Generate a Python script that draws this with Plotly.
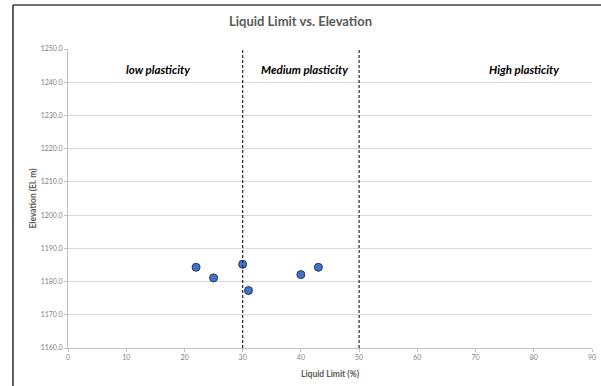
import plotly.graph_objects as go

liquid_limit = [22, 25, 30, 31, 40, 43]
elevation = [1184.3, 1181.1, 1185.2, 1177.3, 1182.1, 1184.3]
boundaries = [30, 50]
zone_labels = ["low plasticity", "Medium plasticity", "High plasticity"]
zone_label_x = [15.5, 40.6, 78.3]
zone_label_y = 1243.7
x_ticks = [0, 10, 20, 30, 40, 50, 60, 70, 80, 90]
y_ticks = [1160, 1170, 1180, 1190, 1200, 1210, 1220, 1230, 1240, 1250]

FONT = "Lato"
fig = go.Figure()
fig.add_trace(go.Scatter(
    x=liquid_limit, y=elevation, mode="markers",
    marker=dict(size=8, color="#4472C4", line=dict(color="#1F3864", width=1)),
    showlegend=False, hoverinfo="x+y"))

for b in boundaries:
    fig.add_shape(type="line", xref="x", yref="y", x0=b, x1=b, y0=1160, y1=1250,
                  line=dict(color="#262626", width=1.2, dash="3px,2px"))

for t, xx in zip(zone_labels, zone_label_x):
    fig.add_annotation(x=xx, y=zone_label_y, xref="x", yref="y", text=f"<b><i>{t}</i></b>",
                       showarrow=False, font=dict(family=FONT, size=11.5, color="#000000"))

# chart frame (top and left edges visible)
fig.add_shape(type="line", xref="paper", yref="paper", x0=-0.105, x1=1.2, y0=1.147, y1=1.147,
              line=dict(color="#404040", width=1.5))
fig.add_shape(type="line", xref="paper", yref="paper", x0=-0.105, x1=-0.105, y0=1.147, y1=-0.2,
              line=dict(color="#262626", width=1.5))

fig.update_layout(
    width=601, height=386,
    margin=dict(l=68, r=9, t=49, b=38),
    paper_bgcolor="white", plot_bgcolor="white",
    font=dict(family=FONT, color="#595959"),
    title=dict(text="<b>Liquid Limit vs. Elevation</b>", x=0.5, xanchor="center",
               y=1 - 21/386, yanchor="middle", font=dict(family=FONT, size=13, color="#595959")),
    xaxis=dict(range=[0, 90], tickvals=x_ticks, ticktext=[str(v) for v in x_ticks],
               showgrid=False, zeroline=False, showline=True, linecolor="#BFBFBF", linewidth=1,
               automargin=False,
               ticks="outside", ticklen=3, tickcolor="#BFBFBF", tickfont=dict(size=7, color="#7F7F7F"),
               title=dict(text="<b>Liquid Limit (%)</b>", font=dict(size=8.5, color="#595959"), standoff=10)),
    yaxis=dict(range=[1160, 1250], tickvals=y_ticks, ticktext=[f"{v:.1f}" for v in y_ticks],
               showgrid=True, gridcolor="#D9D9D9", gridwidth=1, zeroline=False,
               showline=True, linecolor="#BFBFBF", linewidth=1, automargin=False,
               ticks="outside", ticklen=3, tickcolor="#BFBFBF", tickfont=dict(size=7, color="#7F7F7F"),
               title=dict(text="<b>Elevation (El. m)</b>", font=dict(size=8.5, color="#595959"), standoff=2)),
)

fig.write_html("out.html", config={"displayModeBar": False},
               post_script="document.body.style.margin='0';document.body.style.overflow='hidden';")
